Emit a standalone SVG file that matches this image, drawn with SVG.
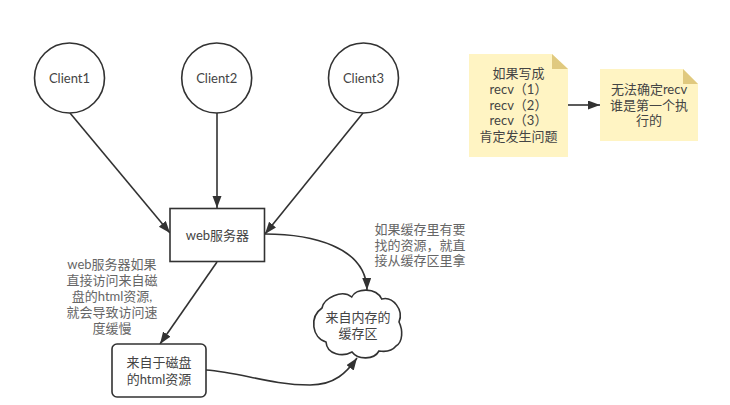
<svg xmlns="http://www.w3.org/2000/svg" width="730" height="405" viewBox="0 0 730 405">
<style>
.n{fill:#fff;stroke:#323232;stroke-width:1.6}
.note{fill:#fff4c3}
.fold{fill:#e0c97f}
.e{fill:none;stroke:#323232;stroke-width:1.6;marker-end:url(#a)}
text{font-family:Lato,"Noto Sans CJK SC",sans-serif;font-size:13px;fill:#444;text-anchor:middle}
.l{fill:#666}
</style>
<defs>
<marker id="a" markerUnits="userSpaceOnUse" markerWidth="14" markerHeight="10" refX="12" refY="4.500" orient="auto"><path d="M0 0L12 4.500L0 9Z" fill="#323232"/></marker>
</defs>
<rect width="730" height="405" fill="#fff"/>
<g id="connectors">
<path class="e" d="M70 113L170 233"/>
<path class="e" d="M217 113V208"/>
<path class="e" d="M363 113L265 234"/>
<path class="e" d="M217 262L160 344"/>
<path class="e" d="M265 234C310 234 366 246 367 290"/>
<path class="e" d="M206 370C240 372 270 385 310 385C335 385 347 372 357 358"/>
<path class="e" d="M568 105H600"/>
</g>
<g id="client1"><circle class="n" cx="69.5" cy="78" r="35"/><text x="69.5" y="83">Client1</text></g>
<g id="client2"><circle class="n" cx="216.7" cy="78" r="35"/><text x="216.7" y="83">Client2</text></g>
<g id="client3"><circle class="n" cx="363.5" cy="78" r="35"/><text x="363.5" y="83">Client3</text></g>
<g id="web"><rect class="n" x="170" y="208.5" width="94.5" height="53"/><text x="217.500" y="240">web服务器</text></g>
<g id="disk"><rect class="n" x="112" y="344" width="94" height="53" rx="5"/><text x="159" y="367">来自于磁盘<tspan x="159" dy="17">的html资源</tspan></text></g>
<g id="cache"><path class="n" d="M322 308C324 298 342 289 351.700 297C356 288 376 287 381.700 299C393 296 404 310 399 322C403 330 403 342 396 346C392 351 385 352 379 351C374 360 358 360 352 352C343 357 327 355 326 342C312 338 309 317 322 308Z"/><text x="358" y="322">来自内存的<tspan x="358" dy="16">缓存区</tspan></text></g>
<g id="note1"><path class="note" d="M469 54H552L568 69V157H469Z"/><path class="fold" d="M552 54L568 69H552Z"/><text x="518.500" y="78">如果写成<tspan x="518.500" dy="16">recv（1）</tspan><tspan x="518.500" dy="15.700">recv（2）</tspan><tspan x="518.500" dy="15.700">recv（3）</tspan><tspan x="518.500" dy="15.600">肯定发生问题</tspan></text></g>
<g id="note2"><path class="note" d="M600 69H683L698 84V141H600Z"/><path class="fold" d="M683 69L698 84H683Z"/><text x="649" y="94">无法确定recv<tspan x="649" dy="15.700">谁是第一个执</tspan><tspan x="649" dy="15.700">行的</tspan></text></g>
<g id="label-disk"><text class="l" x="112" y="269">web服务器如果<tspan x="112" dy="16">直接访问来自磁</tspan><tspan x="112" dy="16">盘的html资源,</tspan><tspan x="112" dy="16">就会导致访问速</tspan><tspan x="112" dy="16">度缓慢</tspan></text></g>
<g id="label-cache"><text class="l" x="420" y="234">如果缓存里有要<tspan x="420" dy="15.700">找的资源，就直</tspan><tspan x="420" dy="15.700">接从缓存区里拿</tspan></text></g>
</svg>
